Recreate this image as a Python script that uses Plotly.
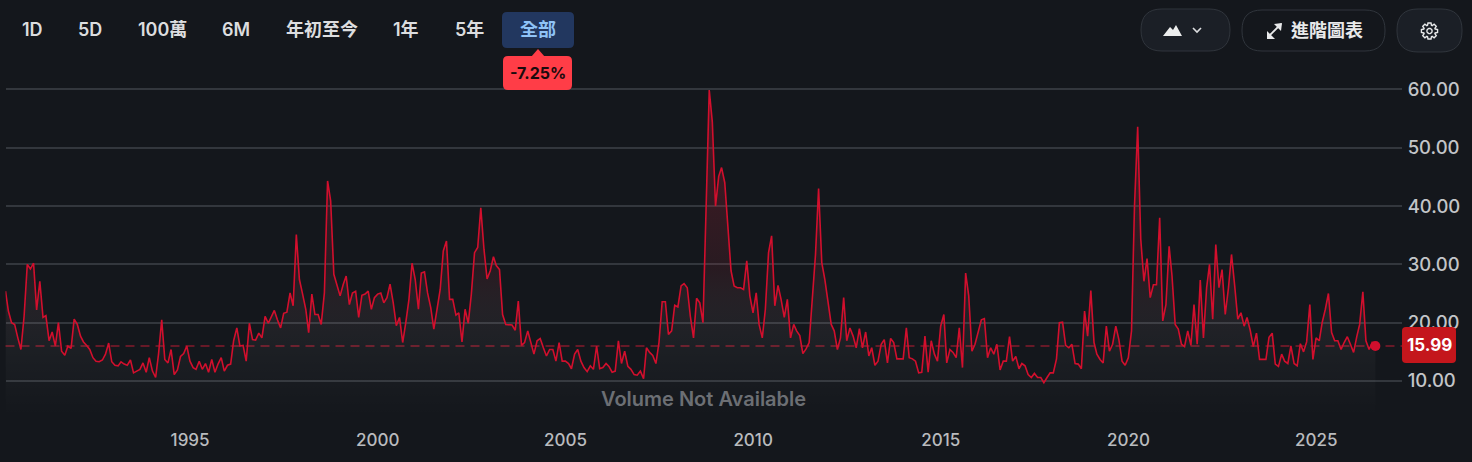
import numpy as np
import pandas as pd
import plotly.graph_objects as go

# month-end closes, one list per year
v1990 = [25.4, 22, 20, 19.7, 17.4, 15.4, 21.1, 30, 29.2, 30.2, 22.2, 27.1]
v1991 = [20.9, 21.2, 16.9, 18.4, 16, 20, 15.1, 14.4, 16, 15.6, 20.6, 19.7]
v1992 = [17.7, 16.7, 16.1, 15.4, 14, 13.4, 13.3, 13.6, 14.6, 16.5, 13.3, 12.7]
v1993 = [12.6, 13.3, 12.9, 12.7, 13.6, 11.4, 11.7, 12, 13.1, 11.5, 14, 11.7]
v1994 = [10.6, 14.6, 20.5, 13.7, 13.1, 15.4, 11.1, 11.9, 14.2, 14.7, 16, 13.4]
v1995 = [12.3, 12, 13.4, 12, 13, 11.5, 13.7, 11.5, 12.9, 14, 11.7, 12.7]
v1996 = [12.9, 16.9, 19.1, 16, 16.1, 13.4, 19.9, 17.1, 17, 18.2, 17.4, 21.1]
v1997 = [19.9, 21, 22.1, 20.5, 19.1, 21.6, 21.8, 25.1, 22.9, 35.1, 27.4, 24.9]
v1998 = [22.3, 18.3, 24.9, 21.4, 21.4, 19.7, 25.1, 44.3, 40.9, 28.3, 26.6, 24.6]
v1999 = [26.6, 28, 23.1, 25.1, 25.4, 20.9, 24.7, 24.9, 25.4, 22.3, 24.3, 24.9]
v2000 = [25.1, 23.4, 24.3, 26.6, 23.4, 19.5, 20.9, 16.6, 20, 24, 30.2, 27.4]
v2001 = [22.3, 28.5, 28.7, 25.1, 22.6, 18.9, 22.3, 25.7, 32.3, 34, 24, 24]
v2002 = [21.3, 21.7, 16.7, 22.3, 19.9, 24.9, 32, 32.9, 39.7, 32.6, 27.5, 28.9]
v2003 = [31.3, 29.8, 29.1, 21.4, 19.7, 19.6, 19.6, 18.7, 23.7, 16.1, 16.6, 18.6]
v2004 = [16.6, 14.6, 16.9, 17.3, 15.7, 14.3, 15.4, 15.4, 13.4, 16.6, 13.4, 13.4]
v2005 = [13, 12.1, 14.6, 15.4, 13.4, 12.3, 11.6, 12.6, 12, 16, 12.1, 12.3]
v2006 = [13, 12.5, 11.5, 11.7, 16.9, 13, 15.1, 12.5, 12, 11.1, 11, 11.7]
v2007 = [10.4, 15.7, 14.9, 14.4, 13, 16.6, 23.6, 23.6, 18, 18.6, 23, 22.7]
v2008 = [26.3, 26.7, 26, 21.1, 17.4, 24.2, 23.4, 20, 39.4, 59.9, 54.4, 40]
v2009 = [45.1, 46.6, 44, 36.5, 28.9, 26.3, 26, 26, 25.7, 30.6, 24.6, 21.7]
v2010 = [25.1, 19.7, 17.4, 22.3, 32, 34.9, 22.9, 26.4, 24, 20.9, 24, 17.4]
v2011 = [19.7, 18.6, 17.8, 14.7, 15.5, 16.6, 25.1, 31.7, 43, 30.3, 27.4, 23.4]
v2012 = [19.7, 18.6, 15.4, 17.4, 24.3, 16.9, 19.1, 17.7, 15.7, 19, 15.7, 18.4]
v2013 = [14.3, 15.7, 12.7, 13.4, 16.3, 17.1, 13.1, 17.3, 16.6, 13.8, 13.8, 13.8]
v2014 = [19.1, 14, 13.8, 13.4, 11.4, 11.5, 17.7, 11.5, 16.9, 14.6, 13.4, 19.4]
v2015 = [21.4, 13.1, 15.4, 14.9, 14, 19.1, 12.3, 28.5, 24.6, 15.1, 16.3, 18.6]
v2016 = [20.5, 20.7, 14, 15.7, 14.6, 16.3, 11.9, 13.4, 13.4, 17.6, 13.4, 14.2]
v2017 = [12.1, 13, 12.6, 11.1, 10.6, 11.3, 10.6, 10.6, 9.7, 10.6, 11.4, 11.4]
v2018 = [13.8, 20, 20.1, 16.1, 15.7, 16.3, 13, 12.9, 12.1, 22, 17.7, 25.5]
v2019 = [16.6, 14.6, 13.7, 13.1, 19.4, 15.1, 16.3, 19.4, 17.1, 13.4, 12.7, 14]
v2020 = [18.6, 40, 53.6, 34.3, 27.1, 31, 24.3, 26.5, 26.5, 38, 20.3, 23.1]
v2021 = [33.1, 28, 19.7, 18.9, 16.3, 15.9, 18.6, 16.1, 23.1, 16.3, 27.3, 17.4]
v2022 = [26, 30, 20.6, 33.4, 26, 29.1, 21.4, 25.9, 31.7, 26.3, 20.6, 21.7]
v2023 = [19.4, 20.9, 18.7, 15.9, 18.2, 13.7, 13.7, 13.7, 17.5, 18.2, 12.9, 12.5]
v2024 = [14.6, 13.4, 13, 16, 13, 12.6, 16.4, 15, 16.7, 23.1, 13.7, 17.4]
v2025 = [16.9, 20, 22.3, 25, 18.3, 16.9, 16.9, 15.4, 16.6, 17.6, 16.3, 14.9]
v2026 = [17.6, 19.7, 25.3, 16.9, 15.4, 16.6, 15.99]

values = (v1990 + v1991 + v1992 + v1993 + v1994 + v1995 + v1996 + v1997 + v1998 + v1999
          + v2000 + v2001 + v2002 + v2003 + v2004 + v2005 + v2006 + v2007 + v2008 + v2009
          + v2010 + v2011 + v2012 + v2013 + v2014 + v2015 + v2016 + v2017 + v2018 + v2019
          + v2020 + v2021 + v2022 + v2023 + v2024 + v2025 + v2026)
dates = pd.date_range("1990-01-31", periods=len(values), freq="ME")

x_ticks = ["1995-01-01", "2000-01-01", "2005-01-01", "2010-01-01", "2015-01-01", "2020-01-01", "2025-01-01"]
x_labels = ["1995", "2000", "2005", "2010", "2015", "2020", "2025"]
y_ticks = [10, 20, 30, 40, 50, 60]

range_buttons = ["1D", "5D", "100萬", "6M", "年初至今", "1年", "5年", "全部"]
range_centers = [32, 90, 162, 236, 322, 406, 469, 538]
change_label = "-7.25%"
no_volume_label = "Volume Not Available"
advanced_label = "進階圖表"

W, H = 1472, 462
BG = "#14171c"
RED = "#d20f2d"
FONT = "Inter, 'Noto Sans CJK TC', sans-serif"


# chrome around the chart is placed in screenshot pixels
def px(x, y):
    return f"{x / W:.5f},{1 - y / H:.5f}"


def rounded(x0, y0, x1, y1, r):
    return (f"M{px(x0 + r, y0)} L{px(x1 - r, y0)} Q{px(x1, y0)} {px(x1, y0 + r)} "
            f"L{px(x1, y1 - r)} Q{px(x1, y1)} {px(x1 - r, y1)} L{px(x0 + r, y1)} "
            f"Q{px(x0, y1)} {px(x0, y1 - r)} L{px(x0, y0 + r)} Q{px(x0, y0)} {px(x0 + r, y0)} Z")


def poly(points, close=True):
    return "M" + " L".join(px(a, b) for a, b in points) + (" Z" if close else "")


def gear(cx, cy, r_out, r_in, teeth=8):
    pts = []
    for i in range(teeth):
        a = 2 * np.pi * i / teeth
        step = 2 * np.pi / teeth
        for off, r in [(-0.30, r_in), (-0.17, r_out), (0.17, r_out), (0.30, r_in)]:
            pts.append((cx + r * np.cos(a + off * step * 1.4), cy + r * np.sin(a + off * step * 1.4)))
    return poly(pts)


def ring(cx, cy, r):
    t = np.linspace(0, 2 * np.pi, 25)[:-1]
    return poly([(cx + r * np.cos(a), cy + r * np.sin(a)) for a in t])


def add_path(fig, path, fill="rgba(0,0,0,0)", line="rgba(0,0,0,0)", width=1):
    fig.add_shape(type="path", path=path, xref="paper", yref="paper",
                  fillcolor=fill, line=dict(color=line, width=width), layer="above")


def add_text(fig, x, y, text, size=16, color="#d9dadc", weight=600):
    fig.add_annotation(x=x / W, y=1 - y / H, xref="paper", yref="paper", text=text, showarrow=False,
                       xanchor="center", yanchor="middle",
                       font=dict(family=FONT, size=size, color=color, weight=weight))


fig = go.Figure()
fig.add_trace(go.Scatter(
    x=dates, y=values, mode="lines", line=dict(color=RED, width=1.6),
    fill="tozeroy",
    fillgradient=dict(type="vertical", start=60, stop=4, colorscale=[
        [0, "rgba(215,20,50,0.30)"],
        [0.55, "rgba(190,50,70,0.12)"],
        [0.80, "rgba(255,255,255,0.035)"],
        [1, "rgba(255,255,255,0)"],
    ]),
    showlegend=False, hoverinfo="skip",
))
fig.add_trace(go.Scatter(
    x=[dates[-1]], y=[values[-1]], mode="markers",
    marker=dict(color=RED, size=10), showlegend=False, hoverinfo="skip",
))
fig.add_hline(y=values[-1], line=dict(color="rgba(205,30,55,0.6)", width=1.5, dash="9px,6px"), layer="below")

# toolbar
add_path(fig, rounded(502, 12, 574, 48, 5), fill="#22375f")
for label, cx in zip(range_buttons, range_centers):
    color = "#8fc3f7" if label == "全部" else "#dcdddf"
    add_text(fig, cx, 29, label, size=18, color=color, weight=600)

add_path(fig, poly([(531, 57), (538, 49), (545, 57)]), fill="#ff3d47")
add_path(fig, rounded(503, 56, 572, 90, 5), fill="#ff3d47")
add_text(fig, 538, 73, change_label, size=16, color="#1a0b0d", weight=700)

add_path(fig, rounded(1141, 9, 1230, 51, 21), fill="#1b1f26", line="#30353c")
add_path(fig, poly([(1163, 36), (1170, 27), (1173, 30), (1176, 25), (1182, 36)]), fill="#eceded")
add_path(fig, poly([(1193, 28), (1197, 32), (1201, 28)], close=False), line="#dcdddf", width=1.6)
add_path(fig, rounded(1242, 10, 1385, 51, 20), line="#30353c")
add_path(fig, poly([(1268, 37), (1281, 24)], close=False), line="#e8e9ea", width=1.8)
add_path(fig, poly([(1274, 24), (1282, 23), (1281, 31)]), fill="#e8e9ea")
add_path(fig, poly([(1275, 39), (1267, 39), (1267, 31)]), fill="#e8e9ea")
add_text(fig, 1327, 30, advanced_label, size=18, color="#e8e9ea", weight=600)
add_path(fig, rounded(1397, 9, 1462, 52, 21), fill="#1b1f26", line="#30353c")
add_path(fig, gear(1429.5, 31, 8.2, 6), line="#e8e9ea", width=1.4)
add_path(fig, ring(1429.5, 31, 2.6), line="#e8e9ea", width=1.4)

add_text(fig, 703, 399, no_volume_label, size=20, color="#6c6f74")

# last value badge
add_path(fig, rounded(1402, 327, 1456, 363, 4), fill="#c4161c")
add_text(fig, 1429, 345, f"{values[-1]:.2f}", size=17, color="#ffffff", weight=700)

fig.update_layout(
    width=W, height=H, autosize=False,
    margin=dict(l=0, r=0, t=0, b=0),
    paper_bgcolor=BG, plot_bgcolor=BG,
    xaxis=dict(
        type="date", domain=[5.5 / W, 1402 / W], range=["1990-01-31", "2027-04-16"],
        tickvals=x_ticks, ticktext=x_labels, showgrid=False, zeroline=False, showline=False,
        ticks="outside", ticklen=10, tickcolor=BG,
        tickfont=dict(family=FONT, size=17, color="#b9bbbe", weight=500),
    ),
    yaxis=dict(
        side="right", domain=[1 - 415 / H, 1 - 62 / H], range=[4.17, 64.7],
        tickvals=y_ticks, tickformat=".2f", showgrid=True, gridcolor="#33373d", gridwidth=1.5,
        zeroline=False, showline=False, ticks="outside", ticklen=1, tickcolor=BG,
        tickfont=dict(family=FONT, size=18.5, color="#c3c5c8", weight=500),
    ),
)

fig.write_html("out.html", config={"displayModeBar": False},
               post_script="document.body.style.margin='0';document.body.style.overflow='hidden';")
